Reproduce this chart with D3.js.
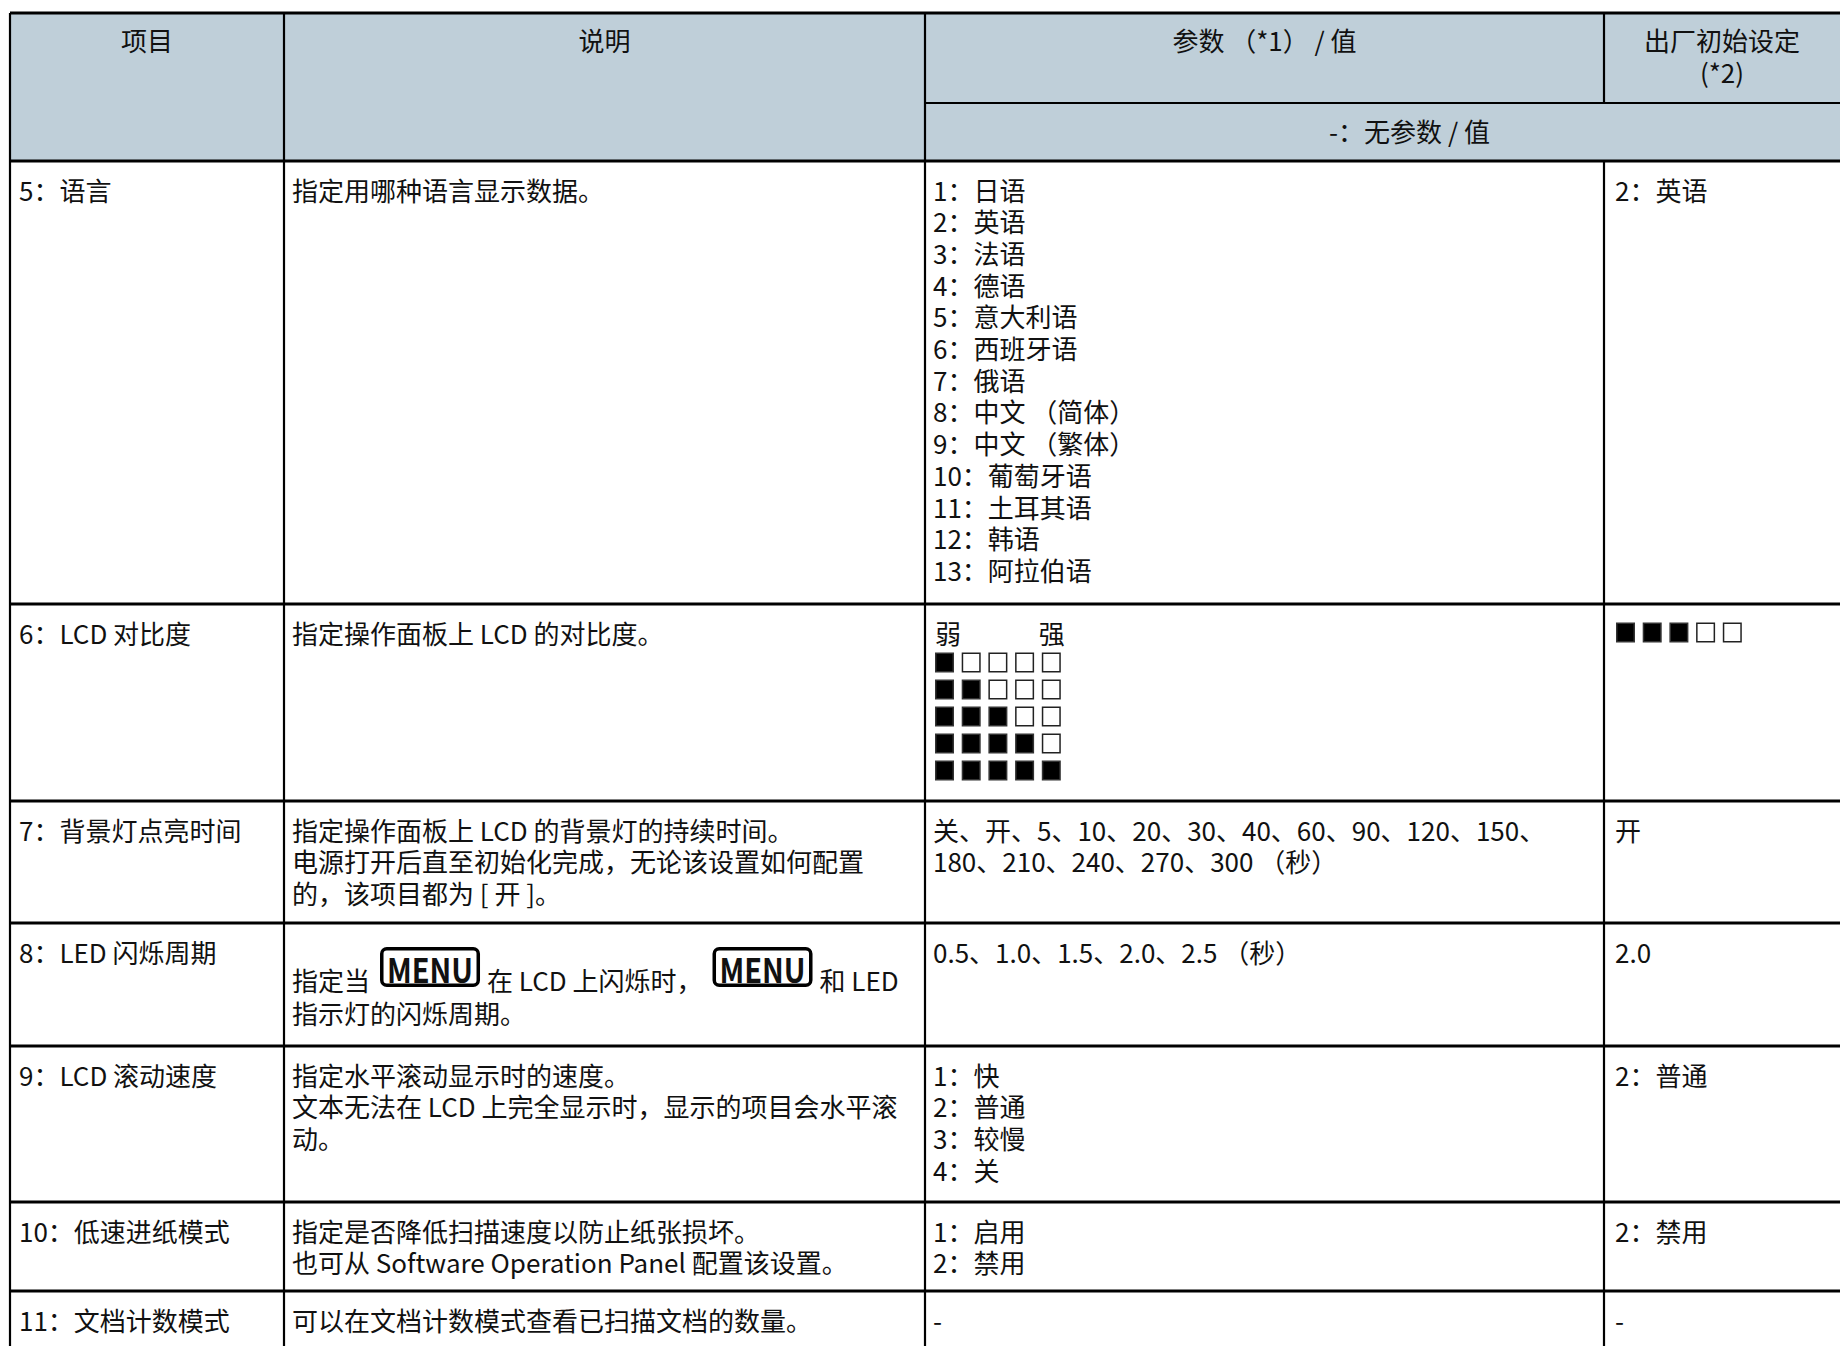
<!DOCTYPE html>
<html>
<head>
<meta charset="utf-8">
<script src="https://cdn.jsdelivr.net/npm/d3@7/dist/d3.min.js"></script>
<style>
  html, body { margin: 0; padding: 0; background: #ffffff; }
  svg { display: block; }
  text { font-family: "Noto Sans CJK SC", "Noto Sans", sans-serif; fill: #111; }
</style>
</head>
<body>
<svg id="chart" width="1840" height="1346"></svg>
<script>
// ---------------- data ----------------
const headers = ["项目", "说明", "参数 （*1） / 值", "出厂初始设定"];
const headerNote = "(*2)";
const headerSub = "-：无参数 / 值";

const items = ["5：语言", "6：LCD 对比度", "7：背景灯点亮时间", "8：LED 闪烁周期",
               "9：LCD 滚动速度", "10：低速进纸模式", "11：文档计数模式"];

const MENU = "MENU";
const descriptions = [
  ["指定用哪种语言显示数据。"],
  ["指定操作面板上 LCD 的对比度。"],
  ["指定操作面板上 LCD 的背景灯的持续时间。", "电源打开后直至初始化完成，无论该设置如何配置", "的，该项目都为 [ 开 ]。"],
  [["指定当", MENU, "在 LCD 上闪烁时，", MENU, "和 LED"], "指示灯的闪烁周期。"],
  ["指定水平滚动显示时的速度。", "文本无法在 LCD 上完全显示时，显示的项目会水平滚", "动。"],
  ["指定是否降低扫描速度以防止纸张损坏。", "也可从 Software Operation Panel 配置该设置。"],
  ["可以在文档计数模式查看已扫描文档的数量。"]
];

const languages = ["日语", "英语", "法语", "德语", "意大利语", "西班牙语", "俄语",
                   "中文 （简体）", "中文 （繁体）", "葡萄牙语", "土耳其语", "韩语", "阿拉伯语"];
const contrastLabels = ["弱", "强"];
const contrastLevels = [1, 2, 3, 4, 5];
const contrastDefault = 3;
const backlightLines = ["关、开、5、10、20、30、40、60、90、120、150、", "180、210、240、270、300 （秒）"];
const blinkLine = ["0.5、1.0、1.5、2.0、2.5 （秒）"];
const scrollSpeeds = ["快", "普通", "较慢", "关"];
const lowSpeed = ["启用", "禁用"];

const params = [
  languages.map((l, i) => `${i + 1}：${l}`),
  "CONTRAST",
  backlightLines,
  blinkLine,
  scrollSpeeds.map((s, i) => `${i + 1}：${s}`),
  lowSpeed.map((s, i) => `${i + 1}：${s}`),
  ["-"]
];
const defaults = ["2：英语", "CONTRAST", "开", "2.0", "2：普通", "2：禁用", "-"];

// ---------------- layout ----------------
const W = 1840, H = 1346;
const colEdges = [10, 284, 925, 1604, 1840];
const headerTop = 13, headerMid = 103, headerBottom = 161;
const rowEdges = [161, 604, 801, 923, 1046, 1202, 1291, 1346];
const fs = 26, lineH = 31.7, firstOff = 27.5, padX = 8;
const headerBg = "#bfcfd9";

const svg = d3.select("#chart");
const x = d3.scaleOrdinal().domain(d3.range(5)).range(colEdges);

// header background
svg.append("rect").attr("x", colEdges[0]).attr("y", headerTop)
  .attr("width", W - colEdges[0]).attr("height", headerBottom - headerTop).attr("fill", headerBg);

// header text
const hg = svg.append("g").attr("font-size", fs);
headers.forEach((h, i) => {
  const t = hg.append("text").attr("x", (x(i) + x(i + 1)) / 2).attr("y", headerTop + 26)
    .attr("text-anchor", "middle").attr("dominant-baseline", "central");
  t.append("tspan").text(h);
  if (i === 3) {
    t.append("tspan").attr("x", (x(i) + x(i + 1)) / 2).attr("dy", 32).text(headerNote);
  }
});
hg.append("text").attr("x", (x(2) + x(4)) / 2 + 27).attr("y", headerMid + 27)
  .attr("text-anchor", "middle").attr("dominant-baseline", "central").text(headerSub);

// body
const body = svg.append("g").attr("font-size", fs);

function drawLines(g, lines, x0, top) {
  const t = g.append("text").attr("x", x0).attr("y", top + firstOff)
    .attr("dominant-baseline", "central");
  t.selectAll("tspan").data(lines).join("tspan")
    .attr("x", x0).attr("dy", (d, k) => k === 0 ? 0 : lineH).text(d => d);
}

function drawContrast(g, x0, cy, level) {
  const sq = 19, sh = 20, pitch = 26.7;
  g.selectAll(null).data(contrastLevels).join("rect")
    .attr("x", (c, j) => x0 + j * pitch + 0.75).attr("y", cy - sh / 2 + 0.75)
    .attr("width", sq - 1.5).attr("height", sh - 1.5)
    .attr("fill", c => c <= level ? "#000" : "#fff")
    .attr("stroke", c => c <= level ? "#333" : "#222").attr("stroke-width", 1.5);
}

function drawMenuIcon(g, x0, cy) {
  const w = 100, h = 40;
  const ig = g.append("g").attr("transform", `translate(${x0},${cy - h + 8})`);
  ig.append("rect").attr("x", 1.75).attr("y", 1.75).attr("width", w - 3.5).attr("height", h - 3.5)
    .attr("rx", 5).attr("fill", "#fff").attr("stroke", "#000").attr("stroke-width", 3.5);
  ig.append("text").attr("x", w / 2).attr("y", h / 2 + 1).attr("text-anchor", "middle")
    .attr("dominant-baseline", "central").attr("font-family", "DejaVu Sans Mono")
    .attr("font-weight", "bold").attr("font-size", 34)
    .attr("textLength", 86).attr("lengthAdjust", "spacingAndGlyphs").text("MENU");
  return w;
}

items.forEach((item, r) => {
  const top = rowEdges[r];
  const g = body.append("g");
  // column 1
  drawLines(g, [item], x(0) + padX + 1, top);
  // column 2
  const desc = descriptions[r];
  if (Array.isArray(desc[0])) {
    let cx = x(1) + padX;
    const cy = top + 56;
    desc[0].forEach(part => {
      if (part === MENU) {
        cx += 10;
        cx += drawMenuIcon(g, cx, cy);
        cx += 7;
      } else {
        const t = g.append("text").attr("x", cx).attr("y", cy)
          .attr("dominant-baseline", "central").text(part);
        cx += t.node().getComputedTextLength();
      }
    });
    g.append("text").attr("x", x(1) + padX).attr("y", cy + 33)
      .attr("dominant-baseline", "central").text(desc[1]);
  } else {
    drawLines(g, desc, x(1) + padX, top);
  }
  // column 3
  if (params[r] === "CONTRAST") {
    const x0 = x(2) + padX + 2;
    const cy0 = top + firstOff + 1;
    g.append("text").attr("x", x0).attr("y", cy0).attr("dominant-baseline", "central").text(contrastLabels[0]);
    g.append("text").attr("x", x0 + 4 * 26.7 + 23).attr("y", cy0).attr("text-anchor", "end")
      .attr("dominant-baseline", "central").text(contrastLabels[1]);
    contrastLevels.forEach((lv, k) => drawContrast(g.append("g"), x0, cy0 + 30 + k * 27, lv));
  } else {
    drawLines(g, params[r], x(2) + padX, top);
  }
  // column 4
  if (defaults[r] === "CONTRAST") {
    drawContrast(g.append("g"), x(3) + padX + 4, top + firstOff + 1, contrastDefault);
  } else {
    drawLines(g, [defaults[r]], x(3) + padX + 3, top);
  }
});

// grid lines
const lines = svg.append("g").attr("stroke", "#000");
const hLines = [
  { y: headerTop, x1: colEdges[0], x2: W },
  { y: headerMid, x1: colEdges[2], x2: W, w: 2.2 },
  ...rowEdges.slice(0, -1).map(y => ({ y, x1: colEdges[0], x2: W }))
];
lines.selectAll("line.h").data(hLines).join("line").attr("class", "h")
  .attr("x1", d => d.x1).attr("x2", d => d.x2).attr("y1", d => d.y).attr("y2", d => d.y)
  .attr("stroke-width", d => d.w || 3);
const vLines = [
  { x: colEdges[0], y1: headerTop, y2: H },
  { x: colEdges[1], y1: headerTop, y2: H },
  { x: colEdges[2], y1: headerTop, y2: H },
  { x: colEdges[3], y1: headerTop, y2: headerMid },
  { x: colEdges[3], y1: headerBottom, y2: H }
];
lines.selectAll("line.v").data(vLines).join("line").attr("class", "v")
  .attr("x1", d => d.x).attr("x2", d => d.x).attr("y1", d => d.y1).attr("y2", d => d.y2)
  .attr("stroke-width", 2.2);
</script>
</body>
</html>
